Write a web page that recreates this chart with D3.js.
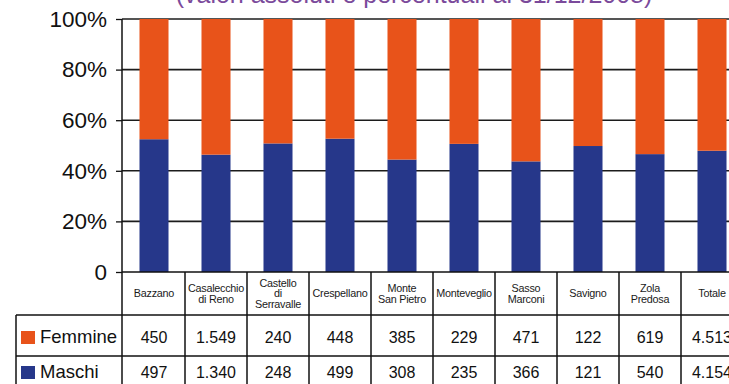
<!DOCTYPE html>
<html>
<head>
<meta charset="utf-8">
<script src="https://cdn.jsdelivr.net/npm/d3@7"></script>
<style>
  html, body { margin: 0; padding: 0; background: #fff; }
  svg { display: block; font-family: "Liberation Sans", Arial, Helvetica, sans-serif; }
</style>
</head>
<body>
<svg id="chart" width="729" height="384"></svg>
<script>
// Residents by municipality and sex
const comuni = ["Bazzano", "Casalecchio di Reno", "Castello di Serravalle", "Crespellano",
  "Monte San Pietro", "Monteveglio", "Sasso Marconi", "Savigno", "Zola Predosa", "Totale"];
const headerLines = [["Bazzano"], ["Casalecchio", "di Reno"], ["Castello", "di", "Serravalle"],
  ["Crespellano"], ["Monte", "San Pietro"], ["Monteveglio"], ["Sasso", "Marconi"],
  ["Savigno"], ["Zola", "Predosa"], ["Totale"]];
const femmine = [450, 1549, 240, 448, 385, 229, 471, 122, 619, 4513];
const maschi  = [497, 1340, 248, 499, 308, 235, 366, 121, 540, 4154];
const yTicks = [0, 0.2, 0.4, 0.6, 0.8, 1];
const titleText = "(valori assoluti e percentuali al 31/12/2008)";

const colors = { Maschi: "#26378a", Femmine: "#e8531a" };
const svg = d3.select("#chart");

const it = d3.formatLocale({ decimal: ",", thousands: ".", grouping: [3], currency: ["€", ""] });
const fmtNum = it.format(",d");

const rows = comuni.map((c, i) => ({ comune: c, Maschi: maschi[i], Femmine: femmine[i] }));
const series = d3.stack().keys(["Maschi", "Femmine"]).offset(d3.stackOffsetExpand)(rows);

const x = d3.scaleBand().domain(comuni).range([123, 743]).paddingInner(0.532).paddingOuter(0.266);
const colW = x.step();
const y = d3.scaleLinear().domain([0, 1]).range([272, 19]);

// title (top part runs past the frame)
svg.append("text").attr("x", 414).attr("y", 3).attr("text-anchor", "middle")
  .attr("font-size", 25).attr("fill", "#7b4a9b").text(titleText);

// horizontal gridlines
svg.append("g").selectAll("line").data(yTicks.filter(t => t > 0)).join("line")
  .attr("x1", 122).attr("x2", 729)
  .attr("y1", d => y(d)).attr("y2", d => y(d))
  .attr("stroke", "#1c1c1c").attr("stroke-width", 1.6);

// y axis
const yAxis = d3.axisLeft(y).tickValues(yTicks).tickSize(6).tickPadding(9)
  .tickFormat(d => d === 0 ? "0" : Math.round(d * 100) + "%");
const gy = svg.append("g").attr("transform", "translate(122,0)").call(yAxis);
gy.select(".domain").remove();
gy.selectAll(".tick line").attr("stroke", "#111").attr("stroke-width", 1.3);
gy.selectAll(".tick text").attr("font-size", 22.5).attr("fill", "#111")
  .attr("font-family", "'Liberation Sans', Arial, sans-serif");
svg.append("line").attr("x1", 122).attr("x2", 122).attr("y1", y(1)).attr("y2", 384)
  .attr("stroke", "#111").attr("stroke-width", 1.5);

// stacked 100% bars
svg.append("g").selectAll("g").data(series).join("g")
  .attr("fill", s => colors[s.key])
  .selectAll("rect").data(s => s).join("rect")
  .attr("x", d => x(d.data.comune))
  .attr("width", x.bandwidth())
  .attr("y", d => y(d[1]))
  .attr("height", d => y(d[0]) - y(d[1]));

// data table
const table = svg.append("g");
const tableTop = 272, headBottom = 315, rowMid = 356, tableBottom = 384;
const colEdges = comuni.map((c, i) => 123 + i * colW);
const lineAttrs = sel => sel.attr("stroke", "#111").attr("stroke-width", 1.5);

table.append("line").attr("x1", 122).attr("x2", 729).attr("y1", tableTop).attr("y2", tableTop).call(lineAttrs);
table.append("line").attr("x1", 16).attr("x2", 729).attr("y1", headBottom).attr("y2", headBottom).call(lineAttrs);
table.append("line").attr("x1", 16).attr("x2", 729).attr("y1", rowMid).attr("y2", rowMid).call(lineAttrs);
table.append("line").attr("x1", 16).attr("x2", 16).attr("y1", headBottom).attr("y2", tableBottom).call(lineAttrs);
table.selectAll(".vcol").data(colEdges.slice(1)).join("line").attr("class", "vcol")
  .attr("x1", d => d).attr("x2", d => d).attr("y1", tableTop).attr("y2", tableBottom).call(lineAttrs);

// header labels
const headMid = (tableTop + headBottom) / 2;
table.selectAll(".head").data(comuni).join("text").attr("class", "head")
  .attr("text-anchor", "middle").attr("font-size", 10.8).attr("fill", "#1a1a1a")
  .attr("letter-spacing", -0.25)
  .each(function (c, i) {
    const lines = headerLines[i];
    const lh = lines.length > 2 ? 10.5 : 11.5;
    const cx = x(c) + x.bandwidth() / 2;
    const t = d3.select(this);
    lines.forEach((ln, k) => {
      t.append("tspan").attr("x", cx)
        .attr("y", headMid + (k - (lines.length - 1) / 2) * lh)
        .attr("dy", "0.35em").text(ln);
    });
  });

// values
const valueRows = [
  { key: "Femmine", values: femmine, cy: (headBottom + rowMid) / 2 + 1.5 },
  { key: "Maschi", values: maschi, cy: 372 }
];
valueRows.forEach(r => {
  table.selectAll(".v-" + r.key).data(comuni).join("text").attr("class", "v-" + r.key)
    .attr("x", c => x(c) + x.bandwidth() / 2).attr("y", r.cy).attr("dy", "0.35em")
    .attr("text-anchor", "middle").attr("font-size", 16).attr("fill", "#111")
    .text((c, i) => fmtNum(r.values[i]));
  // legend swatch + label
  table.append("rect").attr("x", 21).attr("y", r.cy - 6).attr("width", 14).attr("height", 13)
    .attr("fill", colors[r.key]);
  table.append("text").attr("x", 40).attr("y", r.cy).attr("dy", "0.35em")
    .attr("font-size", 18.5).attr("fill", "#111").text(r.key);
});
</script>
</body>
</html>
